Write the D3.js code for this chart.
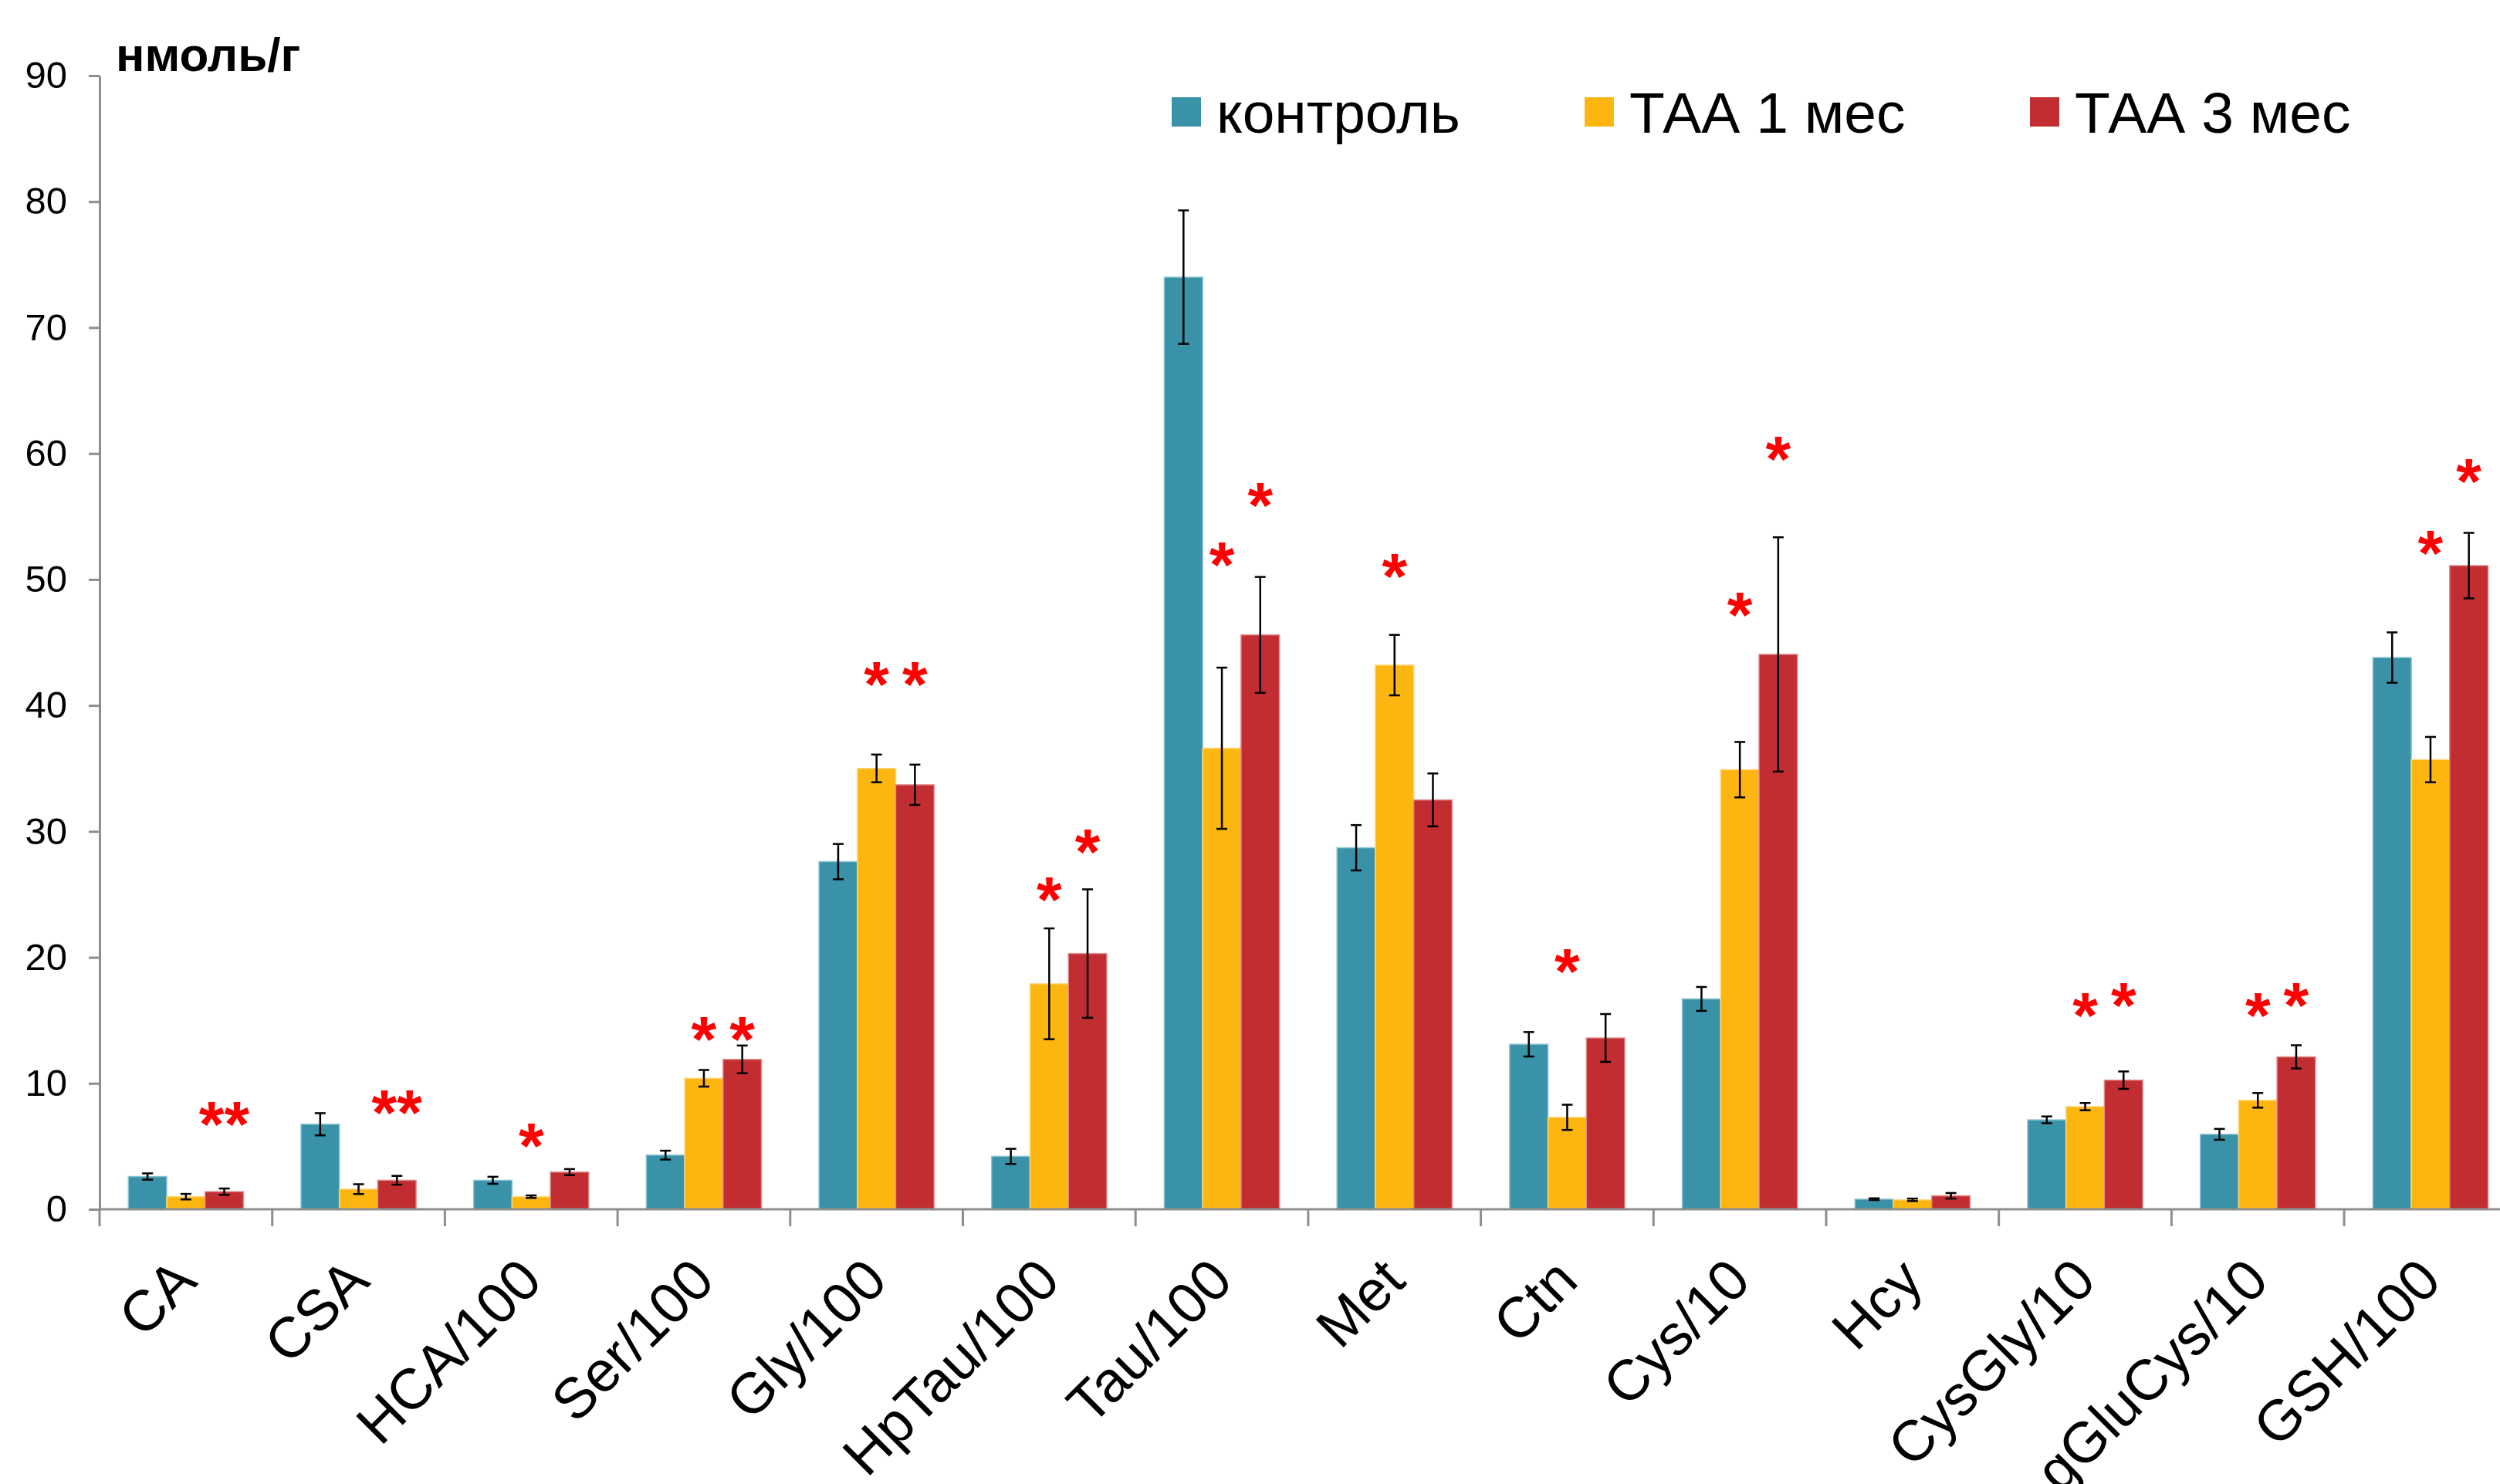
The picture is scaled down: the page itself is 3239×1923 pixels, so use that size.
<!DOCTYPE html>
<html>
<head>
<meta charset="utf-8">
<script src="https://cdn.jsdelivr.net/npm/d3@7"></script>
<style>
  html, body { margin: 0; padding: 0; background: #fff; }
  svg { display: block; font-family: "Liberation Sans", Arial, sans-serif; }
</style>
</head>
<body>
<div id="chart"></div>
<script>
// categories and series
const categories = ['CA', 'CSA', 'HCA/100', 'Ser/100', 'Gly/100', 'HpTau/100', 'Tau/100',
  'Met', 'Ctn', 'Cys/10', 'Hcy', 'CysGly/10', 'gGluCys/10', 'GSH/100']
const seriesNames = ['контроль', 'ТАА 1 мес', 'ТАА 3 мес']

// mean values, one array per group
const control = [2.6, 6.75, 2.3, 4.3, 27.6, 4.2, 74.0, 28.7, 13.1, 16.7, 0.8, 7.1, 5.95, 43.8]
const taa1 = [1.0, 1.6, 1.0, 10.4, 35.0, 17.9, 36.6, 43.2, 7.3, 34.9, 0.75, 8.15, 8.65, 35.7]
const taa3 = [1.4, 2.3, 2.95, 11.9, 33.7, 20.3, 45.6, 32.5, 13.6, 44.05, 1.07, 10.25, 12.1, 51.1]

// error bars (+/-)
const controlErr = [0.25, 0.88, 0.28, 0.35, 1.4, 0.6, 5.3, 1.8, 0.97, 0.95, 0.07, 0.27, 0.43, 2.0]
const taa1Err = [0.22, 0.39, 0.1, 0.66, 1.1, 4.4, 6.4, 2.4, 1.0, 2.2, 0.1, 0.29, 0.58, 1.8]
const taa3Err = [0.25, 0.35, 0.24, 1.1, 1.6, 5.1, 4.6, 2.1, 1.9, 9.3, 0.22, 0.69, 0.92, 2.6]

const yTicks = [0, 10, 20, 30, 40, 50, 60, 70, 80, 90]

// significance marks: category, series index, text, height (in axis units)
const starCats = ['CA', 'CSA', 'HCA/100', 'Ser/100', 'Ser/100', 'Gly/100', 'Gly/100', 'HpTau/100', 'HpTau/100',
  'Tau/100', 'Tau/100', 'Met', 'Ctn', 'Cys/10', 'Cys/10', 'CysGly/10', 'CysGly/10', 'gGluCys/10', 'gGluCys/10',
  'GSH/100', 'GSH/100']
const starSeries = [2, 2, 1, 1, 2, 1, 2, 1, 2, 1, 2, 1, 1, 1, 2, 1, 2, 1, 2, 1, 2]
const starText = ['**', '**', '*', '*', '*', '*', '*', '*', '*', '*', '*', '*', '*', '*', '*', '*', '*', '*', '*', '*', '*']
const starAt = [7.3, 8.2, 5.6, 14.0, 14.0, 42.2, 42.2, 25.1, 28.9, 51.7, 56.4, 50.8, 19.4, 47.7, 60.1,
  15.9, 16.7, 15.9, 16.7, 52.6, 58.3]

const colors = ['#3a92a8', '#fdb60f', '#c22d31']
const edges = ['#8cc3d2', '#fed77f', '#e08a8c']

const W = 3239, H = 1923
const x0 = 129, y0 = 1567, yTop = 98

const svg = d3.select('#chart').append('svg')
  .attr('width', W)
  .attr('height', H)

const x = d3.scaleBand()
  .domain(categories)
  .range([x0, x0 + 14 * 223.7])
  .paddingInner(1 / 3)
  .paddingOuter(1 / 6)
const xs = d3.scaleBand()
  .domain([0, 1, 2])
  .range([0, x.bandwidth()])
const y = d3.scaleLinear()
  .domain([0, 90])
  .range([y0, yTop])

const step = x.step()
const gap = step * x.paddingOuter()

// bars
const values = [control, taa1, taa3]
const errs = [controlErr, taa1Err, taa3Err]
const rows = []
categories.forEach((c, i) => {
  values.forEach((arr, s) => rows.push({ cat: c, s: s, v: arr[i], e: errs[s][i] }))
})

svg.append('g').selectAll('rect')
  .data(rows).enter().append('rect')
  .attr('x', d => x(d.cat) + xs(d.s))
  .attr('y', d => y(d.v))
  .attr('width', xs.bandwidth())
  .attr('height', d => y0 - y(d.v))
  .attr('fill', d => colors[d.s])
  .attr('stroke', d => edges[d.s])
  .attr('stroke-width', 1.5)

// error bars
const eb = svg.append('g').attr('stroke', '#000').attr('stroke-width', 2.5)
rows.forEach(d => {
  const cx = x(d.cat) + xs(d.s) + xs.bandwidth() / 2
  const hi = y(d.v + d.e), lo = y(Math.max(0, d.v - d.e))
  eb.append('line').attr('x1', cx).attr('x2', cx).attr('y1', hi).attr('y2', lo)
  eb.append('line').attr('x1', cx - 7).attr('x2', cx + 7).attr('y1', hi).attr('y2', hi)
  eb.append('line').attr('x1', cx - 7).attr('x2', cx + 7).attr('y1', lo).attr('y2', lo)
})

// y axis
const yAxis = svg.append('g')
  .attr('transform', `translate(${x0},0)`)
  .call(d3.axisLeft(y).tickValues(yTicks).tickSize(14).tickSizeOuter(0).tickPadding(28))
yAxis.select('.domain').attr('stroke', '#8e8e8e').attr('stroke-width', 3)
yAxis.selectAll('.tick line').attr('stroke', '#8e8e8e').attr('stroke-width', 3)
yAxis.selectAll('.tick text')
  .attr('font-size', 49)
  .attr('font-family', '"Liberation Sans", Arial, sans-serif')
  .attr('fill', '#000')

// x axis line and category ticks
svg.append('line')
  .attr('x1', x0).attr('x2', W)
  .attr('y1', y0).attr('y2', y0)
  .attr('stroke', '#8e8e8e').attr('stroke-width', 3)
svg.append('g').selectAll('line')
  .data(categories).enter().append('line')
  .attr('x1', d => x(d) - gap).attr('x2', d => x(d) - gap)
  .attr('y1', y0).attr('y2', y0 + 22)
  .attr('stroke', '#8e8e8e').attr('stroke-width', 3)

// category labels
svg.append('g').selectAll('text')
  .data(categories).enter().append('text')
  .attr('transform', d => `translate(${x(d) + x.bandwidth() / 2 + 17},${y0 + 96}) rotate(-45)`)
  .attr('text-anchor', 'end')
  .attr('font-size', 74)
  .attr('fill', '#000')
  .text(d => d)

// significance stars
svg.append('g').selectAll('text')
  .data(starCats.map((c, i) => ({ cat: c, s: starSeries[i], t: starText[i], at: starAt[i] })))
  .enter().append('text')
  .attr('x', d => x(d.cat) + xs(d.s) + xs.bandwidth() / 2)
  .attr('y', d => y(d.at) + 38)
  .attr('text-anchor', 'middle')
  .attr('font-size', 84)
  .attr('font-weight', 'bold')
  .attr('fill', '#ff0000')
  .text(d => d.t)

// unit label
svg.append('text')
  .attr('x', 150).attr('y', 92)
  .attr('font-size', 62)
  .attr('font-weight', 'bold')
  .attr('fill', '#000')
  .text('нмоль/г')

// legend
const legendX = [1518, 2053, 2630]
const lg = svg.append('g')
seriesNames.forEach((n, i) => {
  lg.append('rect')
    .attr('x', legendX[i]).attr('y', 126)
    .attr('width', 38).attr('height', 38)
    .attr('fill', colors[i])
  lg.append('text')
    .attr('x', legendX[i] + 58).attr('y', 172)
    .attr('font-size', 75)
    .attr('fill', '#000')
    .text(n)
})
</script>
</body>
</html>
